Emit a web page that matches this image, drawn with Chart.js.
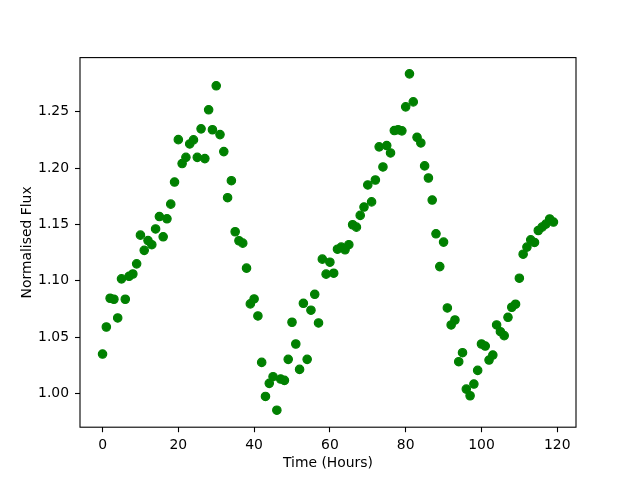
<!DOCTYPE html>
<html>
<head>
<meta charset="utf-8">
<script src="https://cdn.jsdelivr.net/npm/chart.js@4"></script>
<style>
  html, body { margin: 0; padding: 0; background: #ffffff; }
  #wrap { width: 640px; height: 480px; }
</style>
</head>
<body>
<div id="wrap"><canvas id="c" width="640" height="480"></canvas></div>
<script>
const hours = [
  0,1,2,3,4,5,6,7,8,9,10,11,12,13,14,15,16,17,18,19,
  20,21,22,23,24,25,26,27,28,29,30,31,32,33,34,35,36,37,38,39,
  40,41,42,43,44,45,46,47,48,49,50,51,52,53,54,55,56,57,58,59,
  60,61,62,63,64,65,66,67,68,69,70,71,72,73,74,75,76,77,78,79,
  80,81,82,83,84,85,86,87,88,89,90,91,92,93,94,95,96,97,98,99,
  100,101,102,103,104,105,106,107,108,109,110,111,112,113,114,115,116,117,118,119
];
const flux = [
  1.035,1.059,1.0845,1.0836,1.067,1.1017,1.0836,1.104,1.106,1.115,
  1.1405,1.127,1.1357,1.132,1.146,1.157,1.139,1.155,1.168,1.1876,
  1.2252,1.204,1.2095,1.2214,1.225,1.2095,1.2348,1.2084,1.2517,1.234,
  1.273,1.2297,1.2146,1.1737,1.1888,1.1435,1.1355,1.1334,1.1112,1.0795,
  1.0839,1.0688,1.0276,0.9974,1.009,1.0149,0.9852,1.0128,1.0116,1.0303,
  1.0632,1.0439,1.0214,1.080,1.0303,1.0739,1.088,1.0626,1.1192,1.1059,
  1.1165,1.1067,1.128,1.1299,1.1275,1.132,1.1497,1.1476,1.158,1.1654,
  1.185,1.170,1.1894,1.2188,1.201,1.220,1.2134,1.2333,1.234,1.233,
  1.2543,1.2836,1.2587,1.2273,1.2223,1.2019,1.1912,1.1716,1.1417,1.1126,
  1.1343,1.0759,1.0608,1.0652,1.0282,1.0362,1.0039,0.998,1.0084,1.0205,
  1.0439,1.0421,1.0297,1.0341,1.0608,1.0548,1.0513,1.0676,1.0765,1.0792,
  1.1023,1.1236,1.1299,1.1363,1.134,1.1446,1.1476,1.1503,1.1548,1.1521
];
const xTicks = [0, 20, 40, 60, 80, 100, 120];
const yTicks = [1.00, 1.05, 1.10, 1.15, 1.20, 1.25];
const xLabel = 'Time (Hours)';
const yLabel = 'Normalised Flux';

const points = hours.map((h, i) => ({ x: h, y: flux[i] }));

Chart.defaults.color = '#000000';
Chart.defaults.font.family = '"DejaVu Sans", sans-serif';
Chart.defaults.font.size = 13.9;

const frame = {
  id: 'frame',
  afterDraw(chart) {
    const a = chart.chartArea;
    const ctx = chart.ctx;
    ctx.save();
    ctx.strokeStyle = '#000000';
    ctx.lineWidth = 1.1;
    ctx.strokeRect(a.left, a.top, a.right - a.left, a.bottom - a.top);
    ctx.restore();
  }
};

new Chart(document.getElementById('c'), {
  type: 'scatter',
  data: {
    datasets: [{
      data: points,
      backgroundColor: '#008000',
      borderColor: '#008000',
      borderWidth: 1.2,
      pointRadius: 4.2,
      pointHoverRadius: 4.2
    }]
  },
  options: {
    responsive: false,
    animation: false,
    devicePixelRatio: 1,
    layout: { padding: { top: 57.6, right: 64, left: 0, bottom: 0 } },
    plugins: { legend: { display: false }, tooltip: { enabled: false } },
    scales: {
      x: {
        type: 'linear',
        min: -5.95,
        max: 124.95,
        afterBuildTicks(scale) { scale.ticks = xTicks.map(v => ({ value: v })); },
        afterFit(scale) { scale.height = 52.8; },
        grid: { drawOnChartArea: false, drawTicks: true, tickLength: 5, tickColor: '#000000', tickWidth: 1.1 },
        border: { display: false },
        ticks: { padding: 5, maxRotation: 0, autoSkip: false, callback: v => String(v) },
        title: { display: true, text: xLabel, padding: { top: 0, bottom: 8.7 } }
      },
      y: {
        type: 'linear',
        min: 0.9701,
        max: 1.2980,
        afterBuildTicks(scale) { scale.ticks = yTicks.map(v => ({ value: v })); },
        afterFit(scale) { scale.width = 80; },
        grid: { drawOnChartArea: false, drawTicks: true, tickLength: 5, tickColor: '#000000', tickWidth: 1.1 },
        border: { display: false },
        ticks: { padding: 6, autoSkip: false, callback: v => Number(v).toFixed(2) },
        title: { display: true, text: yLabel, padding: { top: 18.7, bottom: 0 } }
      }
    }
  },
  plugins: [frame]
});
</script>
</body>
</html>
